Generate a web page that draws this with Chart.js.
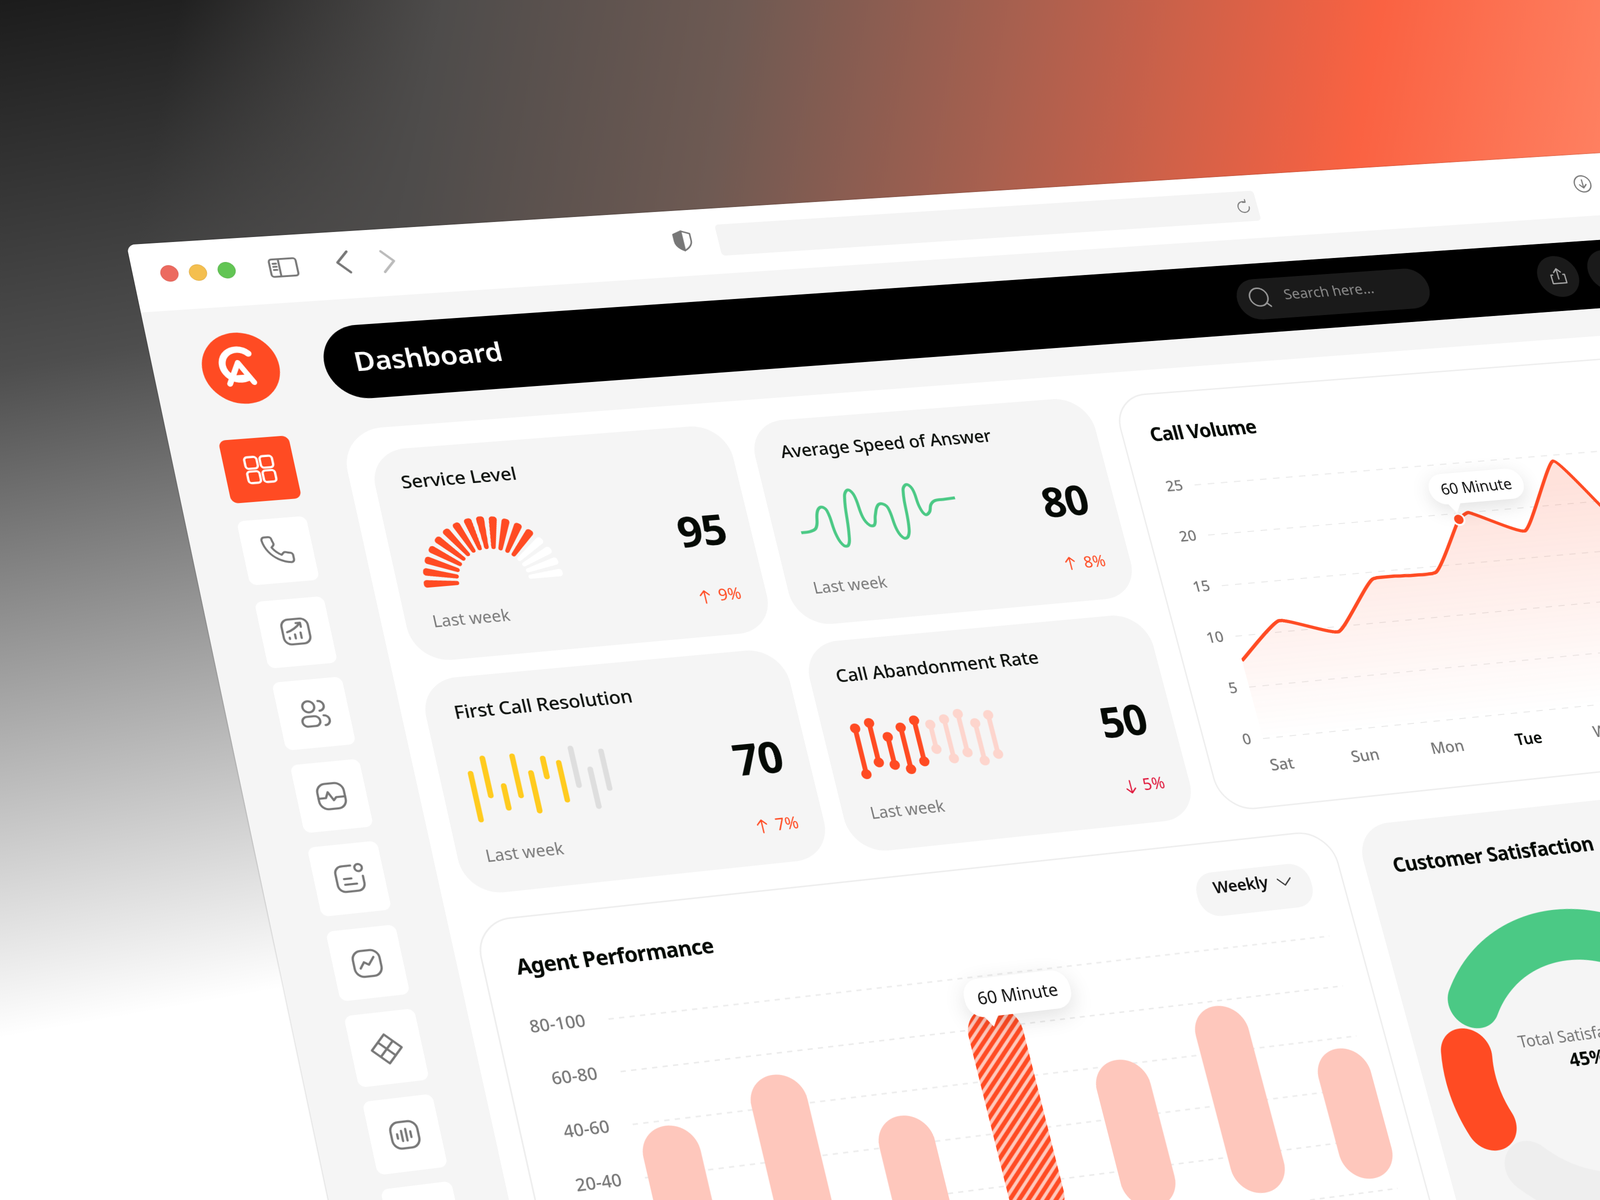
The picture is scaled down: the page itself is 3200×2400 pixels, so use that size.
<!DOCTYPE html>
<html><head><meta charset="utf-8">
<script src="https://cdn.jsdelivr.net/npm/chart.js@4"></script>
<style>
html,body{margin:0;padding:0;width:3200px;height:2400px;overflow:hidden;background:#fff}
body{font-family:"Noto Sans",sans-serif;position:relative;
background:linear-gradient(100deg,rgba(60,60,60,0) 11%,#4e4c4b 27%,#6e5a53 45%,#a8604f 62%,#fa6242 84%,#ff8263 100%) 0 0/100% 520px no-repeat,linear-gradient(170deg,#1c1c1c 0,#4e4e4e 25%,#fff 70%)}
#win{position:absolute;left:0;top:0;width:4200px;height:3200px;transform-origin:0 0;background:#f5f5f5;border-radius:16px 0 0 0;overflow:hidden;box-shadow:0 0 3px rgba(0,0,0,.35)}
#win>*{position:absolute;box-sizing:border-box}
.t{white-space:nowrap;transform:translateY(-50%);line-height:1.1}
.c{transform:translate(-50%,-50%)}
.card{background:#f5f5f5;border-radius:72px}
.white{background:#fff;border-radius:84px}
.bord{background:#fff;border:3px solid #eee;border-radius:72px}
.btn{background:#fff;border-radius:14px}
.title{font-size:37px;color:#0b0f0b;font-weight:500;letter-spacing:-.3px}
.h{font-size:39px;color:#050a05;font-weight:700;letter-spacing:-1px}
.val{font-size:86px;color:#050a05;font-weight:700;letter-spacing:-2px}
.lw{font-size:32px;color:#7a7a7a}
.up{font-size:32px;color:#ff4b23}
.dn{font-size:32px;color:#e0183c}
svg{fill:none;stroke:#777;stroke-width:1.5;stroke-linecap:round;stroke-linejoin:round}
.bub{background:#fff;border-radius:34px;font-size:33px;color:#111;display:flex;align-items:center;justify-content:center;box-shadow:0 12px 44px rgba(0,0,0,.12);white-space:nowrap}
.bub i{position:absolute;width:26px;height:26px;background:#fff;transform:rotate(45deg) skew(12deg,12deg);bottom:-11px;left:36px}
</style></head><body>
<div id="win">
 <div data-r="124,240,1568,211" data-w="4200" style="background:#fff"></div>
 <div class="c" data-k="166,268" style="width:34px;height:34px;border-radius:50%;background:#ec6a5f;border:1px solid #d85a50"></div>
 <div class="c" data-k="194,267" style="width:34px;height:34px;border-radius:50%;background:#f4bf4f;border:1px solid #dca83f"></div>
 <div class="c" data-k="222,265" style="width:34px;height:34px;border-radius:50%;background:#62c554;border:1px solid #52ae45"></div>
 <svg class="c" data-k="278,262" width="62" height="62" viewBox="0 0 24 24"><rect x="2" y="5" width="20" height="14" rx="2"/><path d="M9 5v14M4.500 8.500h2.500M4.500 11h2.500M4.500 13.500h2.500"/></svg>
 <svg class="c" data-k="337,257" width="58" height="58" viewBox="0 0 24 24" style="stroke-width:2"><path d="M16 3l-9 9 9 9"/></svg>
 <svg class="c" data-k="380,256" width="58" height="58" viewBox="0 0 24 24" style="stroke:#bbb;stroke-width:2"><path d="M8 3l9 9-9 9"/></svg>
 <svg class="c" data-k="669,236" width="50" height="50" viewBox="0 0 24 24"><path d="M12 2l8 3v7c0 5-4 8-8 10-4-2-8-5-8-10V5z"/><path d="M12 2v20c-4-2-8-5-8-10V5z" fill="#777"/></svg>
 <div data-r="700,220,1236,216" style="background:#f4f4f4;border-radius:8px"></div>
 <svg class="c" data-k="1219,203" width="36" height="36" viewBox="0 0 24 24"><path d="M20 12a8 8 0 1 1-4-7M16 1v4h-4"/></svg>
 <svg class="c" data-k="1551,180" width="44" height="44" viewBox="0 0 24 24"><circle cx="12" cy="12" r="10"/><path d="M12 7v10M8 13l4 4 4-4"/></svg>

 <div data-r="310,321,1800,285" style="background:#000;border-radius:80px"></div>
 <div class="t" data-a="347,354" style="font-size:55px;color:#fff;font-weight:600;letter-spacing:-.5px">Dashboard</div>
 <div data-r="1207,275,1406,301" style="background:#1a1a1a;border-radius:50px"></div>
 <svg class="c" data-k="1235,292" width="52" height="52" viewBox="0 0 24 24" style="stroke:#999"><circle cx="11" cy="11" r="9"/><path d="M18 18l3 3"/></svg>
 <div class="t" data-a="1258,288" style="font-size:31px;color:#8a8a8a">Search here...</div>
 <div class="c" data-k="1527,271" style="width:92px;height:92px;border-radius:50%;background:#1a1a1a"></div>
 <svg class="c" data-k="1527,271" width="46" height="46" viewBox="0 0 24 24" style="stroke:#aaa"><path d="M12 3v12M8 7l4-4 4 4M6 10H4v10h16V10h-2"/></svg>
 <div class="c" data-k="1576,265" style="width:92px;height:92px;border-radius:50%;background:#1a1a1a"></div>

 <div class="c" data-k="236,361" style="width:146px;height:146px;border-radius:50%;background:#ff4b23"></div>
 <svg class="c" data-k="236,361" width="92" height="92" viewBox="0 0 24 24" style="stroke:#fff;stroke-width:3.4"><path d="M17 4.500a8 8 0 1 0-3 13"/><path d="M5 20l6-11 6 11M8 17h7" stroke-width="2.800"/></svg>

 <div data-r="214,432,296,488" style="background:#ff4b23;border-radius:14px"></div>
 <svg class="c" data-k="255,460" width="70" height="70" viewBox="0 0 24 24" style="stroke:#fff"><rect x="3" y="3" width="8" height="8" rx="2"/><rect x="13" y="3" width="8" height="8" rx="2"/><rect x="3" y="13" width="8" height="8" rx="2"/><rect x="13" y="13" width="8" height="8" rx="2"/></svg>
 <div class="btn" data-r="232,511,313,568"></div>
 <svg class="c" data-k="272,539" width="64" height="64" viewBox="0 0 24 24"><path d="M22 16.920v3a2 2 0 0 1-2.180 2 19.790 19.790 0 0 1-8.630-3.070 19.500 19.500 0 0 1-6-6 19.790 19.790 0 0 1-3.070-8.670A2 2 0 0 1 4.110 2h3a2 2 0 0 1 2 1.720 12.840 12.840 0 0 0 .7 2.810 2 2 0 0 1-.45 2.110L8.090 9.910a16 16 0 0 0 6 6l1.270-1.270a2 2 0 0 1 2.110-.45 12.840 12.840 0 0 0 2.810.7A2 2 0 0 1 22 16.920z"/></svg>
 <div class="btn" data-r="249,590,331,649"></div>
 <svg class="c" data-k="290,619" width="66" height="66" viewBox="0 0 24 24"><rect x="3" y="3" width="18" height="18" rx="5"/><path d="M7 17v-1M11 17v-3M15 17v-4M6 12c4-1 7-3 10-6M13 6h3v3"/></svg>
 <div class="btn" data-r="266,669,349,729"></div>
 <svg class="c" data-k="308,699" width="66" height="66" viewBox="0 0 24 24"><circle cx="9" cy="7" r="4"/><rect x="3" y="14" width="12" height="7" rx="3.500"/><path d="M16 3.500a3.500 3.500 0 0 1 0 7M18 14a3 3 0 0 1 0 7"/></svg>
 <div class="btn" data-r="284,750,366,810"></div>
 <svg class="c" data-k="325,780" width="66" height="66" viewBox="0 0 24 24"><rect x="3" y="3" width="18" height="18" rx="6"/><path d="M3 13h5l2-4 3 6 2-2h6"/></svg>
 <div class="btn" data-r="301,831,384,891"></div>
 <svg class="c" data-k="343,861" width="66" height="66" viewBox="0 0 24 24"><path d="M14 3H8a5 5 0 0 0-5 5v8a5 5 0 0 0 5 5h8a5 5 0 0 0 5-5v-5"/><circle cx="19" cy="5" r="2.500"/><path d="M8 12h5M8 16h8"/></svg>
 <div class="btn" data-r="319,913,402,974"></div>
 <svg class="c" data-k="360,944" width="66" height="66" viewBox="0 0 24 24"><rect x="3" y="3" width="18" height="18" rx="6"/><path d="M7 15l3-4 3 2 4-5"/></svg>
 <div class="btn" data-r="337,996,421,1058"></div>
 <svg class="c" data-k="379,1028" width="66" height="66" viewBox="0 0 24 24"><path d="M12 2l10 10-10 10L2 12zM7 7l10 10M17 7L7 17"/></svg>
 <div class="btn" data-r="355,1080,439,1143"></div>
 <svg class="c" data-k="397,1112" width="66" height="66" viewBox="0 0 24 24"><rect x="3" y="3" width="18" height="18" rx="6"/><path d="M7 11v3M10 9v7M13 8v8M16 10v4"/></svg>
 <div class="btn" data-r="373,1166,458,1230"></div>

 <div class="white" data-r="332,422,2400,1700"></div>

 <div class="card" data-r="360,442,760,618"></div>
 <div class="t title" data-a="393,472">Service Level</div>
 <div data-r="401,508,553,568"><canvas id="gauge"></canvas></div>
 <div class="t val" data-a="664,521">95</div>
 <div class="t lw" data-a="424,609">Last week</div>
 <svg class="c" data-k="691,585" width="30" height="30" viewBox="0 0 24 24" style="stroke:#ff4b23;stroke-width:2"><path d="M12 22V2M5 9l7-7 7 7"/></svg><div class="t up" data-a="704,583">9%</div>

 <div class="card" data-r="732,414,1117,584"></div>
 <div class="t title" data-a="765,443" style="font-size:36px">Average Speed of Answer</div>
 <div data-r="774,482,948,529"><canvas id="wave"></canvas></div>
 <div class="t val" data-a="1021,492">80</div>
 <div class="t lw" data-a="797,576">Last week</div>
 <svg class="c" data-k="1049,552" width="30" height="30" viewBox="0 0 24 24" style="stroke:#ff4b23;stroke-width:2"><path d="M12 22V2M5 9l7-7 7 7"/></svg><div class="t up" data-a="1062,551">8%</div>

 <div class="card" data-r="410,667,816,840"></div>
 <div class="t title" data-a="445,698">First Call Resolution</div>
 <div data-r="449,737,610,794"><canvas id="fcr"></canvas></div>
 <div class="t val" data-a="719,745">70</div>
 <div class="t lw" data-a="476,839">Last week</div>
 <svg class="c" data-k="747,810" width="30" height="30" viewBox="0 0 24 24" style="stroke:#ff4b23;stroke-width:2"><path d="M12 22V2M5 9l7-7 7 7"/></svg><div class="t up" data-a="760,808">7%</div>

 <div class="card" data-r="785,631,1175,801"></div>
 <div class="t title" data-a="819,662">Call Abandonment Rate</div>
 <div data-r="823,703,994,753"><canvas id="car"></canvas></div>
 <div class="t val" data-a="1078,708">50</div>
 <div class="t lw" data-a="853,797">Last week</div>
 <svg class="c" data-k="1108,771" width="30" height="30" viewBox="0 0 24 24" style="stroke:#e0183c;stroke-width:2"><path d="M12 2v20M5 15l7 7 7-7"/></svg><div class="t dn" data-a="1120,769">5%</div>

 <div class="bord" data-r="1089,388,1900,722"></div>
 <div class="t h" data-a="1127,426" style="font-size:40.5px">Call Volume</div>
 <div data-r="1121,459,1699,731"><canvas id="vol"></canvas></div>
 <div class="bub" id="bub1" style="width:208px;height:66px">60 Minute<i></i></div>

 <div class="bord" data-r="463,903,1433,1290"></div>
 <div class="t h" data-a="506,948" style="font-size:40.5px">Agent Performance</div>
 <div data-r="1168,857,1291,887" style="background:#f5f5f5;border-radius:40px"></div>
 <div class="t" data-a="1189,870" style="font-size:33px;font-weight:600;color:#111;letter-spacing:-.5px">Weekly</div>
 <svg class="c" data-k="1259,864" width="40" height="40" viewBox="0 0 24 24" style="stroke:#333"><path d="M4 8l8 8 8-8"/></svg>
 <div data-r="502,976,1406,1192"><canvas id="agent"></canvas></div>
 <div class="bub" id="bub2" style="width:212px;height:76px;font-size:34px">60 Minute<i></i></div>

 <div class="card" data-r="1327,810,2000,1400"></div>
 <div class="t h" data-a="1365,848" style="font-size:41px">Customer Satisfaction</div>
 <div id="donutWrap" data-k="1565,1044" class="c" style="width:640px;height:640px"><canvas id="donut"></canvas></div>
 <div class="t" data-a="1488,1021" style="font-size:33px;color:#777">Total Satisfaction</div>
 <div class="t" data-a="1538,1039" style="font-size:38px;font-weight:700;color:#050a05">45%</div>
</div>
<script>
// ---- chart data ----
const gaugeSpokes=[1,1,1,1,1,1,1,1,1,1,1,1,1,1,1,1,1];
const gaugeGap=0.6;
const gaugeFilled=13;
const waveX=[0,6,10,13,16,19,21,24,27,29,32,35,38,40,43,46,48,51,54,57,59,62,65,67,69,72,75,76.5,79,82,84,87,93,100];
const waveY=[33,34,40,66,73,66,25,6,6,25,88,98,88,50,36,36,52,68,70,62,25,10,12,30,90,99,90,60,46,50,62,68,69,70];
const fcrLow=[3,34,15,30,7,52,18,36,5,28];
const fcrHigh=[73,92,52,91,66,84,76,94,63,86];
const fcrGrey=[7,8,9];
const carLow=[7,25,18,8,19,38,19,27,10,19];
const carHigh=[87,94,67,81,91,81,88,95,76,88];
const days=['Sat','Sun','Mon','Tue','Wed','Thu'];
const volX=[-0.14,0.42,1.09,1.67,2.45,2.91,3.05,3.68,4.27,4.71,5.2];
const volY=[7.6,11.1,9.5,14.3,14.4,19.4,20,17.7,24.4,19.4,14];
const volMarker=5;
const agentBase=[5,5,5,5,5,5,5];
const agentTop=[58,72,51,88,62,78,56];
const agentTicks={100:'80-100',80:'60-80',60:'40-60',40:'20-40',20:'0-20'};
const agentMarker=3;
const csatLabels=['Satisfied','Neutral','Unsatisfied'];
const csatValues=[45,40,15];

// ---- perspective ----
const S=3200/1568, FX=2150, FY=1400;
const Q=[[124,240],[1161,175.4],[1335.5,811.8],[269.3,926.9]].map(p=>[p[0]*S,p[1]*S]);
const [x0,y0]=Q[0],[x1,y1]=Q[1],[x2,y2]=Q[2],[x3,y3]=Q[3];
const dx1=x1-x2,dx2=x3-x2,dx3=x0-x1+x2-x3,dy1=y1-y2,dy2=y3-y2,dy3=y0-y1+y2-y3,det=dx1*dy2-dx2*dy1;
const g=(dx3*dy2-dx2*dy3)/det,h=(dx1*dy3-dx3*dy1)/det;
const A=(x1-x0+g*x1)/FX,B=(x3-x0+h*x3)/FY,C=x0,D=(y1-y0+g*y1)/FX,E=(y3-y0+h*y3)/FY,F=y0,G=g/FX,H=h/FY;
const win=document.getElementById('win');
win.style.transform=`matrix3d(${A},${D},0,${G},${B},${E},0,${H},0,0,1,0,${C},${F},0,1)`;
function flat(dx,dy){const X=dx*S,Y=dy*S,a=A-G*X,b=B-H*X,c=X-C,d=D-G*Y,e=E-H*Y,f=Y-F,q=a*e-b*d;return[(c*e-b*f)/q,(a*f-c*d)/q];}
document.querySelectorAll('[data-r]').forEach(el=>{const v=el.dataset.r.split(',').map(Number),p=flat(v[0],v[1]),q=flat(v[2],v[3]);
 el.style.left=p[0]+'px';el.style.top=p[1]+'px';el.style.width=(el.dataset.w?el.dataset.w:(q[0]-p[0]))+'px';el.style.height=(q[1]-p[1])+'px';});
document.querySelectorAll('[data-a],[data-k]').forEach(el=>{const v=(el.dataset.a||el.dataset.k).split(',').map(Number),p=flat(v[0],v[1]);
 el.style.left=p[0]+'px';el.style.top=p[1]+'px';});

// ---- charts ----
Chart.defaults.font.family='"Noto Sans",sans-serif';
Chart.defaults.animation=false;
Chart.defaults.responsive=true;
Chart.defaults.maintainAspectRatio=false;
Chart.defaults.devicePixelRatio=2;
Chart.defaults.events=[];
Chart.defaults.plugins.legend.display=false;
Chart.defaults.plugins.tooltip.enabled=false;
const ORANGE='#ff4b23',PINK='#fec7bc';
const hidden={display:false};

// spokes alternate with transparent gap slices
const gaugeData=[],gaugeColors=[];
gaugeSpokes.forEach((v,i)=>{gaugeData.push(v);gaugeColors.push(i<gaugeFilled?ORANGE:'#ffffff');
 if(i<gaugeSpokes.length-1){gaugeData.push(gaugeGap);gaugeColors.push('rgba(0,0,0,0)');}});
new Chart('gauge',{type:'doughnut',data:{labels:gaugeData.map((_,i)=>i+1),datasets:[{data:gaugeData,
 backgroundColor:gaugeColors,borderWidth:0,borderRadius:6}]},
 options:{rotation:-90,circumference:180,cutout:'50%'}});

new Chart('wave',{type:'line',data:{datasets:[{data:waveX.map((x,i)=>({x,y:waveY[i]})),borderColor:'#4bc985',borderWidth:6,pointRadius:0,tension:.4,clip:false}]},
 options:{scales:{x:{type:'linear',min:0,max:100,display:false},y:{min:0,max:100,display:false}}}});

function floatOpts(){return{scales:{x:{display:false,grid:hidden},y:{min:0,max:100,display:false}}};}
new Chart('fcr',{type:'bar',data:{labels:fcrLow.map((_,i)=>i+1),datasets:[{data:fcrLow.map((l,i)=>[l,fcrHigh[i]]),
 backgroundColor:fcrLow.map((_,i)=>fcrGrey.includes(i)?'#dedede':'#ffcb1f'),barThickness:10,borderRadius:5,borderSkipped:false}]},options:floatOpts()});

const carCol=carLow.map((_,i)=>i<5?ORANGE:'#fdd5cd');
new Chart('car',{data:{labels:carLow.map((_,i)=>i+1),datasets:[
 {type:'line',data:carLow,showLine:false,pointRadius:10,pointBackgroundColor:carCol,pointBorderWidth:0,clip:false},
 {type:'line',data:carHigh,showLine:false,pointRadius:10,pointBackgroundColor:carCol,pointBorderWidth:0,clip:false},
 {type:'bar',data:carLow.map((l,i)=>[l,carHigh[i]]),backgroundColor:carCol,barThickness:9,borderSkipped:false}]},
 options:{scales:{x:{display:false,offset:true},y:{min:0,max:100,display:false}}}});

function placeBubble(id,wrapCanvas,pt,tailX,gap){const b=document.getElementById(id),w=wrapCanvas.parentNode;
 b.style.left=(parseFloat(w.style.left)+pt.x-tailX)+'px';
 b.style.top=(parseFloat(w.style.top)+pt.y-b.offsetHeight-gap)+'px';
 b.firstElementChild.style.left=(tailX-13)+'px';}

const grid={color:'#e9e9e9',drawTicks:false,lineWidth:2};
new Chart('vol',{type:'line',data:{datasets:[{data:volX.map((x,i)=>({x,y:volY[i]})),borderColor:ORANGE,borderWidth:7,tension:.14,fill:'origin',
 borderJoinStyle:'round',
 backgroundColor:c=>{const a=c.chart.chartArea;if(!a)return'transparent';const gr=c.chart.ctx.createLinearGradient(0,a.top+60,0,a.bottom);gr.addColorStop(0,'rgba(255,75,35,.16)');gr.addColorStop(1,'rgba(255,75,35,0)');return gr;},
 pointRadius:volX.map((_,i)=>i===volMarker?12:0),pointBackgroundColor:ORANGE,pointBorderColor:'#fff',pointBorderWidth:4}]},
 options:{layout:{padding:{top:20}},scales:{
  x:{type:'linear',min:-0.14,max:5.45,border:{display:false},grid:{display:false,drawTicks:false},
   ticks:{stepSize:1,includeBounds:false,autoSkip:false,maxRotation:0,padding:38,callback:v=>days[v]??'',
    color:c=>c.tick&&c.tick.value===3?'#050a05':'#777',font:c=>({size:33,weight:c.tick&&c.tick.value===3?'600':'500'})}},
  y:{min:0,max:25,afterFit:s=>{s.width=96},border:{display:false,dash:[14,14]},grid,
   ticks:{stepSize:5,padding:25,color:'#777',font:{size:31,weight:'500'}}}}},
 plugins:[{id:'b1',afterRender(ch){placeBubble('bub1',ch.canvas,ch.getDatasetMeta(0).data[volMarker],46,34);}}]});

const pat=document.createElement('canvas');pat.width=pat.height=20;
const pc=pat.getContext('2d');pc.fillStyle='#ffc9bd';pc.fillRect(0,0,20,20);pc.strokeStyle=ORANGE;pc.lineWidth=8;pc.lineCap='square';
[[-5,5,5,-5],[0,20,20,0],[15,25,25,15]].forEach(l=>{pc.beginPath();pc.moveTo(l[0],l[1]);pc.lineTo(l[2],l[3]);pc.stroke();});

new Chart('agent',{type:'bar',data:{datasets:[{data:agentTop.map((t,i)=>({x:i,y:[agentBase[i],t]})),
 backgroundColor:c=>c.dataIndex===agentMarker?c.chart.ctx.createPattern(pat,'repeat'):PINK,
 barThickness:108,borderRadius:54,borderSkipped:false,clip:false}]},
 options:{layout:{padding:{top:18,right:60}},scales:{
  x:{type:'linear',offset:false,min:-0.27,max:6.2,display:false},
  y:{min:0,max:100,afterFit:s=>{s.width=168},border:{display:false,dash:[10,10]},grid:{color:'#ececec',drawTicks:false,lineWidth:3},
   ticks:{stepSize:20,padding:44,color:'#777',font:{size:33,weight:'500'},callback:v=>agentTicks[v]??''}}}},
 plugins:[{id:'b2',afterRender(ch){placeBubble('bub2',ch.canvas,ch.getDatasetMeta(0).data[agentMarker],44,-20);}}]});

new Chart('donut',{type:'doughnut',data:{labels:csatLabels,datasets:[{data:csatValues,backgroundColor:['#4bc985','#eeeeee',ORANGE],borderWidth:0,spacing:6,borderRadius:52}]},
 options:{rotation:-67,cutout:'67%'}});
</script>
</body></html>
